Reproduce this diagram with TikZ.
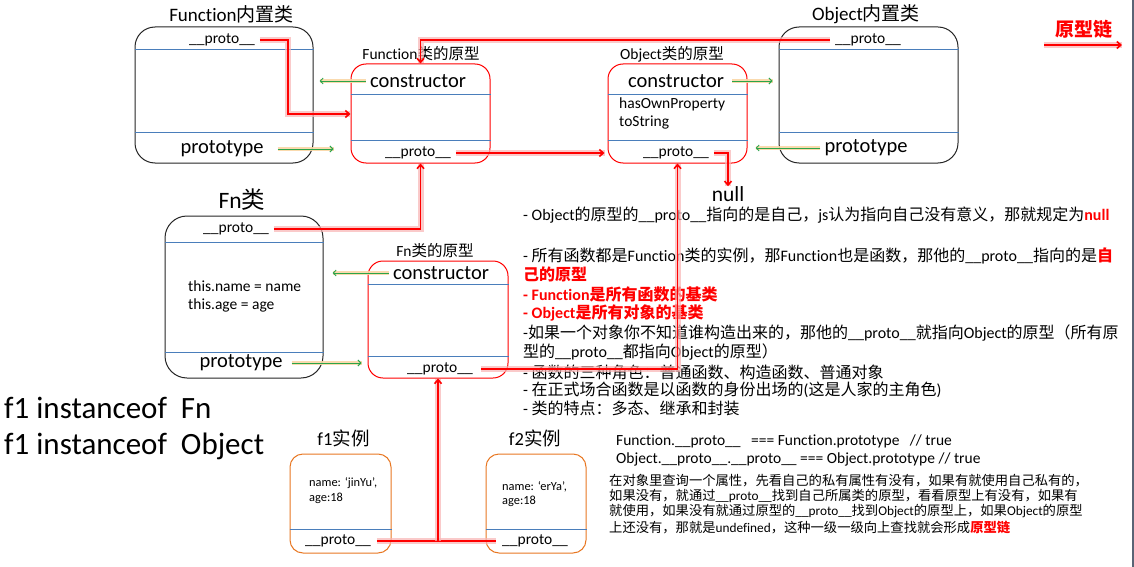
\documentclass[tikz,border=0pt]{standalone}
\usepackage{fontspec}
\setmainfont{Carlito}[Ligatures={TeX,NoCommon}]
\newfontfamily\zhf{Noto Sans CJK SC}
\newcommand\zh[1]{{\zhf #1}}
\newcommand\fsz[1]{\fontsize{#1}{#1}\selectfont}
\newcommand\pr{\_\_proto\_\_}
\usetikzlibrary{arrows.meta,calc}
\definecolor{divblue}{HTML}{4A7EBB}
\definecolor{boxorange}{HTML}{E87722}
\definecolor{arrgreen}{HTML}{2AA54A}
\definecolor{glowor}{HTML}{FAD7A6}
\definecolor{glowred}{HTML}{F9B4B4}
\definecolor{edgegray}{HTML}{5A6475}
\begin{document}
\begin{tikzpicture}[x=1pt,y=-1pt,
  bx/.style={draw=black!85, line width=1pt, rounded corners=20pt, inner sep=0pt},
  rbx/.style={draw=red, line width=1pt, rounded corners=15pt, inner sep=0pt},
  obx/.style={draw=boxorange, line width=1pt, rounded corners=13pt, inner sep=0pt},
  dv/.style={draw=divblue, line width=0.9pt},
  lbl/.style={inner sep=0pt, text=black},
  lnw/.style={inner sep=0pt, anchor=west, text=black},
  redc/.style={draw=red, line width=1.6pt, -{Straight Barb[length=4pt,width=7pt]},
    preaction={draw=glowred, line width=6pt, -, opacity=0.7}},
  grn/.style={draw=arrgreen, line width=0.9pt, -{Straight Barb[length=3pt,width=6pt]},
    preaction={draw=glowor, line width=4.5pt, -, opacity=0.9}},
]
\useasboundingbox (0,0) rectangle (1134,567);
\fill[white] (0,0) rectangle (1134,567);
\draw[edgegray, line width=2pt] (1133,0) -- (1133,567);

% ---------- Function built-in class ----------
\node[bx, minimum width=178, minimum height=136] (fun) at (224,95) {};
\node[lbl, font=\fsz{19}] (funT) at (231.5,14) {Function\zh{内置类}};
\node[lbl, font=\fsz{15.5}] (funP) at (222,40) {\pr};
\node[lbl, font=\fsz{20.5}] (funPt) at (222,149) {prototype};
\draw[dv] (fun.west |- 0,49) -- (fun.east |- 0,49);
\draw[dv] (fun.west |- 0,132) -- (fun.east |- 0,132);

% ---------- Function prototype ----------
\node[rbx, minimum width=139, minimum height=99] (fpr) at (420.5,113.5) {};
\node[lbl, font=\fsz{15.5}] (fprT) at (421,54) {Function\zh{类的原型}};
\node[lbl, font=\fsz{20.5}] (fprC) at (418,81) {constructor};
\node[lbl, font=\fsz{15.5}] (fprP) at (418,153) {\pr};
\draw[dv] (fpr.west |- 0,94) -- (fpr.east |- 0,94);
\draw[dv] (fpr.west |- 0,140) -- (fpr.east |- 0,140);

% ---------- Object prototype ----------
\node[rbx, minimum width=139, minimum height=99] (opr) at (677.5,113.5) {};
\node[lbl, font=\fsz{15.5}] (oprT) at (672,54) {Object\zh{类的原型}};
\node[lbl, font=\fsz{20.5}] (oprC) at (676,81) {constructor};
\node[lnw, font=\fsz{15.5}] (oprH) at (619,104) {hasOwnProperty};
\node[lnw, font=\fsz{15.5}] (oprS) at (619,123) {toString};
\node[lbl, font=\fsz{15.5}] (oprP) at (676,153) {\pr};
\draw[dv] (opr.west |- 0,94) -- (opr.east |- 0,94);
\draw[dv] (opr.west |- 0,140) -- (opr.east |- 0,140);

% ---------- Object built-in class ----------
\node[bx, minimum width=179, minimum height=136] (obj) at (868.5,95) {};
\node[lbl, font=\fsz{19}] (objT) at (866,14) {Object\zh{内置类}};
\node[lbl, font=\fsz{15.5}] (objP) at (868,40) {\pr};
\node[lbl, font=\fsz{20.5}] (objPt) at (866,148) {prototype};
\draw[dv] (obj.west |- 0,49) -- (obj.east |- 0,49);
\draw[dv] (obj.west |- 0,132) -- (obj.east |- 0,132);

% ---------- legend ----------
\node[lbl, text=red, font=\fsz{19}\bfseries] (leg) at (1084,29) {\zh{原型链}};
\coordinate (la) at (1044,45);
\coordinate (lb) at (1122,45);

% ---------- Fn class ----------
\node[bx, rounded corners=22pt, minimum width=158, minimum height=162] (fn) at (244,297) {};
\node[lbl, font=\fsz{23.5}] (fnT) at (242,200) {Fn\zh{类}};
\node[lbl, font=\fsz{15.5}] (fnP) at (236,229) {\pr};
\node[lnw, font=\fsz{15.5}] (fnA) at (188,286) {this.name = name};
\node[lnw, font=\fsz{15.5}] (fnB) at (188,305) {this.age = age};
\node[lbl, font=\fsz{20.5}] (fnPt) at (241,363) {prototype};
\draw[dv] (fn.west |- 0,242) -- (fn.east |- 0,242);
\draw[dv] (fn.west |- 0,352) -- (fn.east |- 0,352);

% ---------- Fn prototype ----------
\node[rbx, minimum width=140, minimum height=117] (fnpr) at (438,319.5) {};
\node[lbl, font=\fsz{15.5}] (fnprT) at (435,251) {Fn\zh{类的原型}};
\node[lbl, font=\fsz{20.5}] (fnpC) at (441,273) {constructor};
\node[lbl, font=\fsz{15.5}] (fnpP) at (440,369) {\pr};
\draw[dv] (fnpr.west |- 0,284) -- (fnpr.east |- 0,284);
\draw[dv] (fnpr.west |- 0,356) -- (fnpr.east |- 0,356);

% ---------- null ----------
\node[lbl, font=\fsz{21.5}] (null) at (728,194) {null};

% ---------- instanceof ----------
\node[lnw, font=\fsz{31}] (io1) at (4,408) {f1 instanceof\ \ Fn};
\node[lnw, font=\fsz{31}] (io2) at (4,446) {f1 instanceof\ \ Object};

% ---------- f1 / f2 ----------
\node[obx, minimum width=101, minimum height=99] (f1) at (340.5,503.5) {};
\node[lbl, font=\fsz{18.5}] (f1T) at (343.5,438) {f1\zh{实例}};
\node[lnw, font=\fsz{12.4}] (f1A) at (309,483) {name: ‘jinYu’,};
\node[lnw, font=\fsz{12.4}] (f1B) at (309,498) {age:18};
\node[lbl, font=\fsz{15.5}] (f1P) at (338,541) {\pr};
\draw[dv] (f1.west |- 0,529) -- (f1.east |- 0,529);

\node[obx, minimum width=100, minimum height=99] (f2) at (536,503.5) {};
\node[lbl, font=\fsz{18.5}] (f2T) at (535,438) {f2\zh{实例}};
\node[lnw, font=\fsz{12.4}] (f2A) at (502,487) {name: ‘erYa’,};
\node[lnw, font=\fsz{12.4}] (f2B) at (502,501) {age:18};
\node[lbl, font=\fsz{15.5}] (f2P) at (535,541) {\pr};
\draw[dv] (f2.west |- 0,529) -- (f2.east |- 0,529);

% ---------- notes on the right ----------
\begin{scope}[every node/.style={lnw, font=\fsz{16}}]
\node (t1) at (523,215) {- Object\zh{的原型的}\pr\zh{指向的是自己，}js\zh{认为指向自己没有意义，那就规定为}\textcolor{red}{\bfseries null}};
\node (t2) at (523,256) {- \zh{所有函数都是}Function\zh{类的实例，那}Function\zh{也是函数，那他的}\pr\zh{指向的是}\textcolor{red}{\bfseries\zh{自}}};
\node (t3) at (523,274) {\textcolor{red}{\bfseries\zh{己的原型}}};
\node (t4) at (523,294) {\textcolor{red}{\bfseries - Function\zh{是所有函数的基类}}};
\node (t5) at (523,313) {\textcolor{red}{\bfseries - Object\zh{是所有对象的基类}}};
\node (t6) at (523,333) {-\zh{如果一个对象你不知道谁构造出来的，那他的}\pr\zh{就指向}Object\zh{的原型（所有原}};
\node (t7) at (523,352) {\zh{型的}\pr\zh{都指向}Object\zh{的原型）}};
\node (t8) at (523,372) {- \zh{函数的三种角色：普通函数、构造函数、普通对象}};
\node (t9) at (523,390) {- \zh{在正式场合函数是以函数的身份出场的}(\zh{这是人家的主角色})};
\node (t10) at (523,408) {- \zh{类的特点：多态、继承和封装}};
\end{scope}

\begin{scope}[every node/.style={lnw, font=\fsz{15.5}}]
\node (c1) at (616,441) {Function.\pr\ \ \ === Function.prototype\ \ \ // true};
\node (c2) at (616,459) {Object.\pr.\pr\ === Object.prototype // true};
\end{scope}

\begin{scope}[every node/.style={lnw, font=\fsz{13.3}}]
\node (p1) at (609,481) {\zh{在对象里查询一个属性，先看自己的私有属性有没有，如果有就使用自己私有的，}};
\node (p2) at (609,496) {\zh{如果没有，就通过}\pr\zh{找到自己所属类的原型，看看原型上有没有，如果有}};
\node (p3) at (609,511) {\zh{就使用，如果没有就通过原型的}\pr\zh{找到}Object\zh{的原型上，如果}Object\zh{的原型}};
\node (p4) at (609,527) {\zh{上还没有，那就是}undefined\zh{，这种一级一级向上查找就会形成}\textcolor{red}{\bfseries\zh{原型链}}};
\end{scope}

% ---------- green arrows ----------
\draw[grn] ([xshift=-4pt]fprC.west) -- ([xshift=6pt]fun.east |- fprC.west);
\draw[grn] ([xshift=14pt]funPt.east) -- ([xshift=-17pt]fpr.west |- funPt.east);
\draw[grn] ([xshift=8pt]oprC.east) -- ([xshift=-6pt]obj.west |- oprC.east);
\draw[grn] ([xshift=-4pt]objPt.west) -- ([xshift=8pt]opr.east |- objPt.west);
\draw[grn] ([xshift=-4pt]fnpC.west) -- ([xshift=9pt]fn.east |- fnpC.west);
\draw[grn] ([xshift=9pt]fnPt.east) -- ([xshift=-6pt]fnpr.west |- fnPt.east);

% ---------- red connectors ----------
\coordinate (k1) at (288,114);
\draw[redc] ([xshift=5pt]funP.east) -| (k1) -- (fpr.west |- k1);
\draw[redc] ([xshift=-5pt]objP.west) -| (fpr.north);
\draw[redc, shorten >=3pt] ([xshift=5pt]fprP.east) -- (opr.west |- fprP.east);
\draw[redc] ([xshift=5pt]oprP.east) -| (null.north);
\draw[redc] ([xshift=5pt]fnP.east) -| (fpr.south);
\draw[redc] ([xshift=8pt]fnpP.east) -| (opr.south);
\draw[redc, -] ([xshift=6pt]f1P.east) -- ([xshift=-6pt]f2P.west);
\coordinate (jn) at (f1P.east -| fnpr.south);
\draw[redc] (jn) -- (fnpr.south);
\draw[redc] (la) -- (lb);
\end{tikzpicture}
\end{document}
